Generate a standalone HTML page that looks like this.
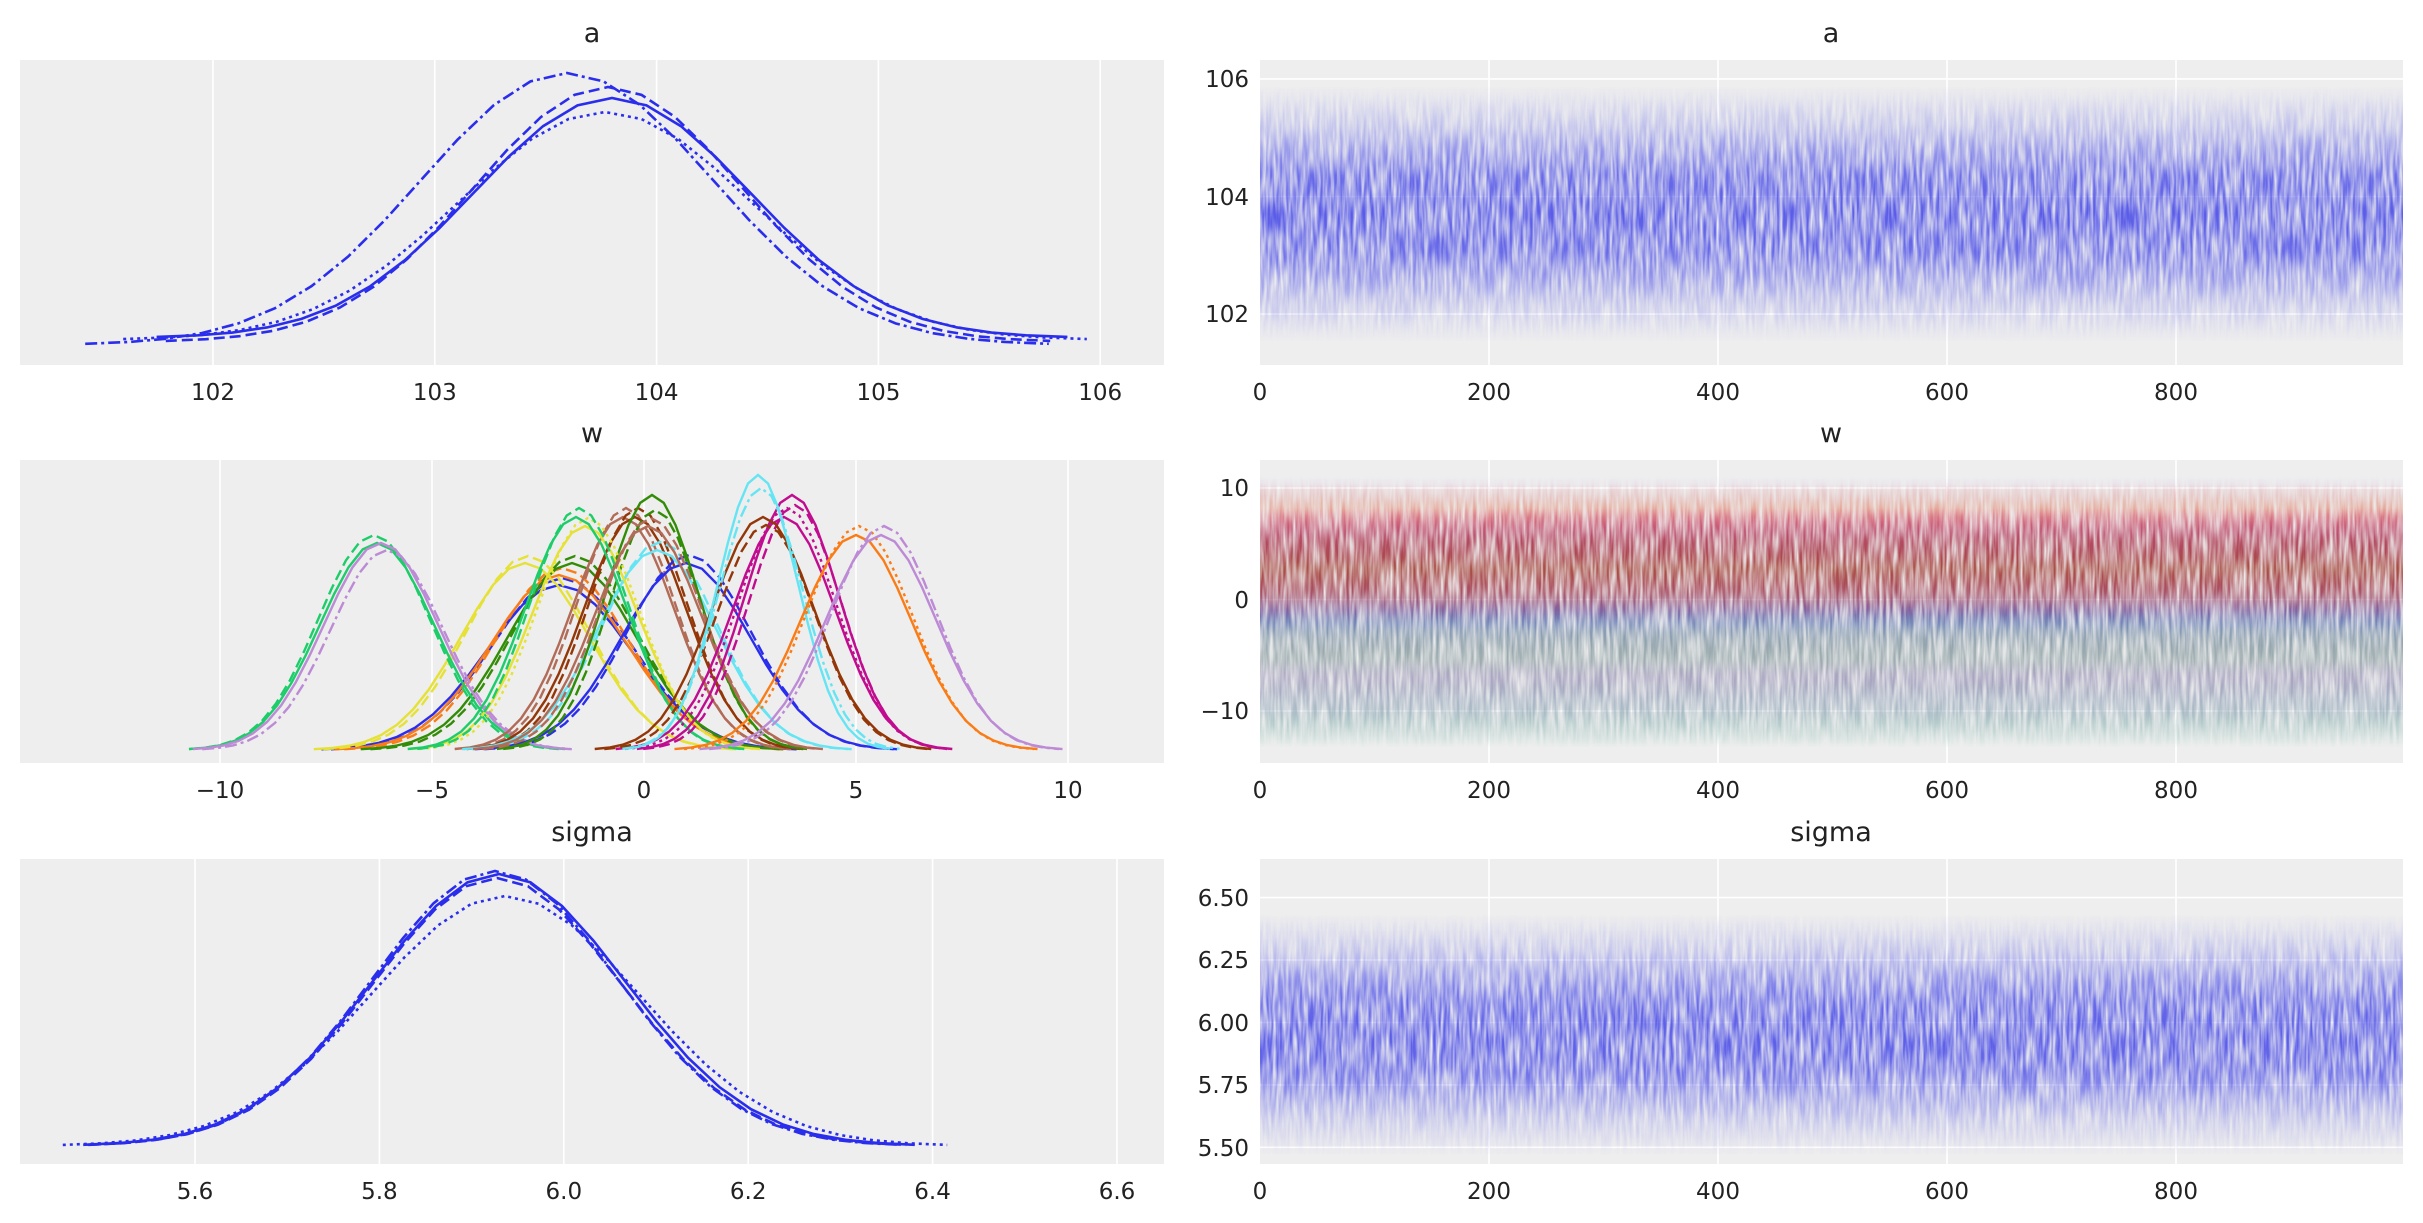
<!DOCTYPE html>
<html><head><meta charset="utf-8"><style>
html,body{margin:0;padding:0;background:#fff;}
svg{display:block;font-family:"DejaVu Sans","Liberation Sans",sans-serif;}
.t{font-size:23px;fill:#222;}
.ti{font-size:27px;fill:#222;}
.g line{stroke:#fff;stroke-width:1.6;}
</style></head><body>
<svg width="2423" height="1223" viewBox="0 0 2423 1223" xmlns="http://www.w3.org/2000/svg">
<defs>
<path id="g" vector-effect="non-scaling-stroke" fill="none" d="M-3.3 -0.0043 L-3 -0.0111 L-2.75 -0.0228 L-2.5 -0.0439 L-2.25 -0.0796 L-2 -0.1353 L-1.75 -0.2163 L-1.5 -0.3247 L-1.25 -0.4578 L-1 -0.6065 L-0.75 -0.7548 L-0.5 -0.8825 L-0.25 -0.9692 L0 -1 L0.25 -0.9692 L0.5 -0.8825 L0.75 -0.7548 L1 -0.6065 L1.25 -0.4578 L1.5 -0.3247 L1.75 -0.2163 L2 -0.1353 L2.25 -0.0796 L2.5 -0.0439 L2.75 -0.0228 L3 -0.0111 L3.3 -0.0043"/>
<clipPath id="l0"><rect x="20" y="60" width="1144" height="305"/></clipPath>
<clipPath id="l1"><rect x="20" y="460" width="1144" height="303"/></clipPath>
<clipPath id="l2"><rect x="20" y="859" width="1144" height="305"/></clipPath>
<clipPath id="r1"><rect x="1260" y="460" width="1143" height="303"/></clipPath>
<linearGradient id="gb" x1="0" y1="0" x2="0" y2="1"><stop offset="0" stop-color="#5a5ce8" stop-opacity="0"/><stop offset="0.15" stop-color="#5a5ce8" stop-opacity="0.3"/><stop offset="0.35" stop-color="#5a5ce8" stop-opacity="0.9"/><stop offset="0.5" stop-color="#5a5ce8" stop-opacity="1"/><stop offset="0.65" stop-color="#5a5ce8" stop-opacity="0.9"/><stop offset="0.85" stop-color="#5a5ce8" stop-opacity="0.3"/><stop offset="1" stop-color="#5a5ce8" stop-opacity="0"/></linearGradient>
<linearGradient id="c0" x1="0" y1="0" x2="0" y2="1"><stop offset="0" stop-color="#2a2eec" stop-opacity="0"/><stop offset="0.25" stop-color="#2a2eec" stop-opacity="0.5"/><stop offset="0.5" stop-color="#2a2eec" stop-opacity="0.8"/><stop offset="0.75" stop-color="#2a2eec" stop-opacity="0.5"/><stop offset="1" stop-color="#2a2eec" stop-opacity="0"/></linearGradient>
<linearGradient id="c1" x1="0" y1="0" x2="0" y2="1"><stop offset="0" stop-color="#fa7c17" stop-opacity="0"/><stop offset="0.25" stop-color="#fa7c17" stop-opacity="0.5"/><stop offset="0.5" stop-color="#fa7c17" stop-opacity="0.8"/><stop offset="0.75" stop-color="#fa7c17" stop-opacity="0.5"/><stop offset="1" stop-color="#fa7c17" stop-opacity="0"/></linearGradient>
<linearGradient id="c2" x1="0" y1="0" x2="0" y2="1"><stop offset="0" stop-color="#328c06" stop-opacity="0"/><stop offset="0.25" stop-color="#328c06" stop-opacity="0.5"/><stop offset="0.5" stop-color="#328c06" stop-opacity="0.8"/><stop offset="0.75" stop-color="#328c06" stop-opacity="0.5"/><stop offset="1" stop-color="#328c06" stop-opacity="0"/></linearGradient>
<linearGradient id="c3" x1="0" y1="0" x2="0" y2="1"><stop offset="0" stop-color="#c10c90" stop-opacity="0"/><stop offset="0.25" stop-color="#c10c90" stop-opacity="0.5"/><stop offset="0.5" stop-color="#c10c90" stop-opacity="0.8"/><stop offset="0.75" stop-color="#c10c90" stop-opacity="0.5"/><stop offset="1" stop-color="#c10c90" stop-opacity="0"/></linearGradient>
<linearGradient id="c4" x1="0" y1="0" x2="0" y2="1"><stop offset="0" stop-color="#933708" stop-opacity="0"/><stop offset="0.25" stop-color="#933708" stop-opacity="0.5"/><stop offset="0.5" stop-color="#933708" stop-opacity="0.8"/><stop offset="0.75" stop-color="#933708" stop-opacity="0.5"/><stop offset="1" stop-color="#933708" stop-opacity="0"/></linearGradient>
<linearGradient id="c5" x1="0" y1="0" x2="0" y2="1"><stop offset="0" stop-color="#65e5f3" stop-opacity="0"/><stop offset="0.25" stop-color="#65e5f3" stop-opacity="0.4"/><stop offset="0.5" stop-color="#65e5f3" stop-opacity="0.6"/><stop offset="0.75" stop-color="#65e5f3" stop-opacity="0.4"/><stop offset="1" stop-color="#65e5f3" stop-opacity="0"/></linearGradient>
<linearGradient id="c6" x1="0" y1="0" x2="0" y2="1"><stop offset="0" stop-color="#e6e135" stop-opacity="0"/><stop offset="0.25" stop-color="#e6e135" stop-opacity="0.5"/><stop offset="0.5" stop-color="#e6e135" stop-opacity="0.8"/><stop offset="0.75" stop-color="#e6e135" stop-opacity="0.5"/><stop offset="1" stop-color="#e6e135" stop-opacity="0"/></linearGradient>
<linearGradient id="c7" x1="0" y1="0" x2="0" y2="1"><stop offset="0" stop-color="#1ccd6a" stop-opacity="0"/><stop offset="0.25" stop-color="#1ccd6a" stop-opacity="0.5"/><stop offset="0.5" stop-color="#1ccd6a" stop-opacity="0.75"/><stop offset="0.75" stop-color="#1ccd6a" stop-opacity="0.5"/><stop offset="1" stop-color="#1ccd6a" stop-opacity="0"/></linearGradient>
<linearGradient id="c8" x1="0" y1="0" x2="0" y2="1"><stop offset="0" stop-color="#bd8ad5" stop-opacity="0"/><stop offset="0.25" stop-color="#bd8ad5" stop-opacity="0.5"/><stop offset="0.5" stop-color="#bd8ad5" stop-opacity="0.75"/><stop offset="0.75" stop-color="#bd8ad5" stop-opacity="0.5"/><stop offset="1" stop-color="#bd8ad5" stop-opacity="0"/></linearGradient>
<linearGradient id="c9" x1="0" y1="0" x2="0" y2="1"><stop offset="0" stop-color="#b16b57" stop-opacity="0"/><stop offset="0.25" stop-color="#b16b57" stop-opacity="0.5"/><stop offset="0.5" stop-color="#b16b57" stop-opacity="0.8"/><stop offset="0.75" stop-color="#b16b57" stop-opacity="0.5"/><stop offset="1" stop-color="#b16b57" stop-opacity="0"/></linearGradient>
<filter id="tn" x="0" y="0" width="1" height="1"><feTurbulence type="fractalNoise" baseFrequency="0.3 0.03" numOctaves="2" seed="5" result="t"/><feColorMatrix in="t" type="matrix" values="0 0 0 0 0  0 0 0 0 0  0 0 0 0 0  1.6 0 0 0 -0.2" result="m"/><feComposite in="SourceGraphic" in2="m" operator="in"/></filter>
</defs>

<rect x="20" y="60" width="1144" height="305" fill="#eee"/>
<rect x="1260" y="60" width="1143" height="305" fill="#eee"/>
<rect x="20" y="460" width="1144" height="303" fill="#eee"/>
<rect x="1260" y="460" width="1143" height="303" fill="#eee"/>
<rect x="20" y="859" width="1144" height="305" fill="#eee"/>
<rect x="1260" y="859" width="1143" height="305" fill="#eee"/>

<g class="ti" text-anchor="middle">
<text x="592" y="42">a</text><text x="1831" y="42">a</text>
<text x="592" y="442">w</text><text x="1831" y="442">w</text>
<text x="592" y="841">sigma</text><text x="1831" y="841">sigma</text>
</g>

<g class="g">
<line x1="213" x2="213" y1="60" y2="365"/><line x1="434.8" x2="434.8" y1="60" y2="365"/><line x1="656.6" x2="656.6" y1="60" y2="365"/><line x1="878.4" x2="878.4" y1="60" y2="365"/><line x1="1100.2" x2="1100.2" y1="60" y2="365"/>
<line x1="220" x2="220" y1="460" y2="763"/><line x1="432" x2="432" y1="460" y2="763"/><line x1="644" x2="644" y1="460" y2="763"/><line x1="856" x2="856" y1="460" y2="763"/><line x1="1068" x2="1068" y1="460" y2="763"/>
<line x1="195" x2="195" y1="859" y2="1164"/><line x1="379.4" x2="379.4" y1="859" y2="1164"/><line x1="563.8" x2="563.8" y1="859" y2="1164"/><line x1="748.2" x2="748.2" y1="859" y2="1164"/><line x1="932.6" x2="932.6" y1="859" y2="1164"/><line x1="1117" x2="1117" y1="859" y2="1164"/>
<line x1="1489" x2="1489" y1="60" y2="365"/><line x1="1718" x2="1718" y1="60" y2="365"/><line x1="1947" x2="1947" y1="60" y2="365"/><line x1="2176" x2="2176" y1="60" y2="365"/>
<line x1="1489" x2="1489" y1="460" y2="763"/><line x1="1718" x2="1718" y1="460" y2="763"/><line x1="1947" x2="1947" y1="460" y2="763"/><line x1="2176" x2="2176" y1="460" y2="763"/>
<line x1="1489" x2="1489" y1="859" y2="1164"/><line x1="1718" x2="1718" y1="859" y2="1164"/><line x1="1947" x2="1947" y1="859" y2="1164"/><line x1="2176" x2="2176" y1="859" y2="1164"/>
<line x1="1260" x2="2403" y1="314.1" y2="314.1"/><line x1="1260" x2="2403" y1="196.5" y2="196.5"/><line x1="1260" x2="2403" y1="78.9" y2="78.9"/>
<line x1="1260" x2="2403" y1="711" y2="711"/><line x1="1260" x2="2403" y1="599.5" y2="599.5"/><line x1="1260" x2="2403" y1="488" y2="488"/>
<line x1="1260" x2="2403" y1="1147.3" y2="1147.3"/><line x1="1260" x2="2403" y1="1084.9" y2="1084.9"/><line x1="1260" x2="2403" y1="1022.5" y2="1022.5"/><line x1="1260" x2="2403" y1="960" y2="960"/><line x1="1260" x2="2403" y1="897.6" y2="897.6"/>
</g>

<g class="t" text-anchor="middle">
<text x="213" y="400">102</text><text x="434.8" y="400">103</text><text x="656.6" y="400">104</text><text x="878.4" y="400">105</text><text x="1100.2" y="400">106</text>
<text x="220" y="798">−10</text><text x="432" y="798">−5</text><text x="644" y="798">0</text><text x="856" y="798">5</text><text x="1068" y="798">10</text>
<text x="195" y="1199">5.6</text><text x="379.4" y="1199">5.8</text><text x="563.8" y="1199">6.0</text><text x="748.2" y="1199">6.2</text><text x="932.6" y="1199">6.4</text><text x="1117" y="1199">6.6</text>
<text x="1260" y="400">0</text><text x="1489" y="400">200</text><text x="1718" y="400">400</text><text x="1947" y="400">600</text><text x="2176" y="400">800</text>
<text x="1260" y="798">0</text><text x="1489" y="798">200</text><text x="1718" y="798">400</text><text x="1947" y="798">600</text><text x="2176" y="798">800</text>
<text x="1260" y="1199">0</text><text x="1489" y="1199">200</text><text x="1718" y="1199">400</text><text x="1947" y="1199">600</text><text x="2176" y="1199">800</text>
</g>
<g class="t" text-anchor="end">
<text x="1249" y="322">102</text><text x="1249" y="205">104</text><text x="1249" y="87">106</text>
<text x="1249" y="719">−10</text><text x="1249" y="608">0</text><text x="1249" y="496">10</text>
<text x="1249" y="1156">5.50</text><text x="1249" y="1093">5.75</text><text x="1249" y="1031">6.00</text><text x="1249" y="968">6.25</text><text x="1249" y="906">6.50</text>
</g>

<g filter="url(#tn)">
<rect x="1260" y="86" width="1143" height="256" fill="url(#gb)"/>
<rect x="1260" y="915" width="1143" height="240" fill="url(#gb)"/>
</g>
<g clip-path="url(#r1)" opacity="0.85">
<g filter="url(#tn)">
<rect x="1260" y="542" width="1143" height="160" fill="url(#c0)"/>
<rect x="1260" y="547" width="1143" height="150" fill="url(#c1)"/>
<rect x="1260" y="560.7" width="1143" height="140" fill="url(#c6)"/>
<rect x="1260" y="548.5" width="1143" height="140" fill="url(#c2)"/>
<rect x="1260" y="561.3" width="1143" height="112" fill="url(#c7)"/>
<rect x="1260" y="556" width="1143" height="118" fill="url(#c6)"/>
<rect x="1260" y="549" width="1143" height="112" fill="url(#c9)"/>
<rect x="1260" y="545.3" width="1143" height="104" fill="url(#c2)"/>
<rect x="1260" y="539.4" width="1143" height="118" fill="url(#c9)"/>
<rect x="1260" y="545.7" width="1143" height="112" fill="url(#c4)"/>
<rect x="1260" y="530" width="1143" height="132" fill="url(#c5)"/>
<rect x="1260" y="518.4" width="1143" height="140" fill="url(#c0)"/>
<rect x="1260" y="476" width="1143" height="122" fill="url(#c8)"/>
<rect x="1260" y="482.8" width="1143" height="122" fill="url(#c1)"/>
<rect x="1260" y="524.4" width="1143" height="90" fill="url(#c5)"/>
<rect x="1260" y="506.7" width="1143" height="112" fill="url(#c3)"/>
<rect x="1260" y="508.5" width="1143" height="104" fill="url(#c3)"/>
<rect x="1260" y="512.3" width="1143" height="112" fill="url(#c4)"/>
<rect x="1260" y="612" width="1143" height="136" fill="url(#c7)"/>
<rect x="1260" y="610" width="1143" height="136" fill="url(#c8)"/>
</g>
</g>

<g clip-path="url(#l0)" stroke="#2a2eec" stroke-width="2.6" fill="none">
<use href="#g" transform="translate(612,338) scale(138,240)"/>
<use href="#g" transform="translate(608,342) scale(134,255)" stroke-dasharray="11,5"/>
<use href="#g" transform="translate(605,340) scale(146,228)" stroke-dasharray="3,4"/>
<use href="#g" transform="translate(567,345) scale(146,272)" stroke-dasharray="12,4,3,4"/>
</g>
<g clip-path="url(#l2)" stroke="#2a2eec" stroke-width="2.6" fill="none">
<use href="#g" transform="translate(499,1146) scale(126,272)"/>
<use href="#g" transform="translate(497,1146) scale(124,268)" stroke-dasharray="11,5"/>
<use href="#g" transform="translate(505,1146) scale(134,250)" stroke-dasharray="3,4"/>
<use href="#g" transform="translate(495,1146) scale(123,275)" stroke-dasharray="12,4,3,4"/>
</g>
<g clip-path="url(#l1)" stroke-width="2.4" fill="none">
<g stroke="#2a2eec"><use href="#g" transform="translate(559,750) scale(72,165)"/><use href="#g" transform="translate(562,750) scale(70,172)" stroke-dasharray="11,5"/></g>
<g stroke="#fa7c17"><use href="#g" transform="translate(559,750) scale(68,175)"/><use href="#g" transform="translate(562,750) scale(66,182)" stroke-dasharray="11,5"/></g>
<g stroke="#328c06"><use href="#g" transform="translate(572,750) scale(64,187)"/><use href="#g" transform="translate(575,750) scale(62,194)" stroke-dasharray="11,5"/></g>
<g stroke="#e6e135"><use href="#g" transform="translate(525,750) scale(64,187)"/><use href="#g" transform="translate(528,750) scale(62,194)" stroke-dasharray="11,5"/></g>
<g stroke="#1ccd6a"><use href="#g" transform="translate(377,750) scale(57,207)"/><use href="#g" transform="translate(374,750) scale(56,215)" stroke-dasharray="11,5"/></g>
<g stroke="#bd8ad5"><use href="#g" transform="translate(381,750) scale(57,207)"/><use href="#g" transform="translate(387,750) scale(56,200)" stroke-dasharray="12,4,3,4"/></g>
<g stroke="#b16b57"><use href="#g" transform="translate(623,750) scale(51,233)"/><use href="#g" transform="translate(626,750) scale(49,242)" stroke-dasharray="11,5"/></g>
<g stroke="#933708"><use href="#g" transform="translate(635,750) scale(51,233)"/><use href="#g" transform="translate(638,750) scale(49,242)" stroke-dasharray="11,5"/></g>
<g stroke="#65e5f3"><use href="#g" transform="translate(657,750) scale(59,200)"/><use href="#g" transform="translate(660,750) scale(57,208)" stroke-dasharray="11,5"/></g>
<g stroke="#2a2eec"><use href="#g" transform="translate(686,750) scale(64,187)"/><use href="#g" transform="translate(689,750) scale(62,195)" stroke-dasharray="11,5"/></g>
<g stroke="#328c06"><use href="#g" transform="translate(652,750) scale(47,255)"/><use href="#g" transform="translate(655,750) scale(46,240)" stroke-dasharray="11,5"/></g>
<g stroke="#e6e135"><use href="#g" transform="translate(585,750) scale(53,224)"/><use href="#g" transform="translate(588,750) scale(51,232)" stroke-dasharray="3,4"/></g>
<g stroke="#1ccd6a"><use href="#g" transform="translate(576,750) scale(51,233)"/><use href="#g" transform="translate(579,750) scale(49,242)" stroke-dasharray="11,5"/></g>
<g stroke="#b16b57"><use href="#g" transform="translate(648,750) scale(53,224)"/><use href="#g" transform="translate(651,750) scale(51,232)" stroke-dasharray="11,5"/></g>
<g stroke="#c10c90"><use href="#g" transform="translate(784,750) scale(51,233)"/><use href="#g" transform="translate(787,750) scale(49,242)" stroke-dasharray="3,4"/></g>
<g stroke="#c10c90"><use href="#g" transform="translate(792,750) scale(47,255)"/><use href="#g" transform="translate(795,750) scale(46,245)" stroke-dasharray="11,5"/></g>
<g stroke="#933708"><use href="#g" transform="translate(763,750) scale(51,233)"/><use href="#g" transform="translate(766,750) scale(49,225)" stroke-dasharray="11,5"/></g>
<g stroke="#65e5f3"><use href="#g" transform="translate(758,750) scale(40,275)"/><use href="#g" transform="translate(761,750) scale(42,262)" stroke-dasharray="12,4,3,4"/></g>
<g stroke="#fa7c17"><use href="#g" transform="translate(856,750) scale(55,215)"/><use href="#g" transform="translate(859,750) scale(53,224)" stroke-dasharray="3,4"/></g>
<g stroke="#bd8ad5"><use href="#g" transform="translate(881,750) scale(55,215)"/><use href="#g" transform="translate(884,750) scale(53,224)" stroke-dasharray="12,4,3,4"/></g>
</g>
</svg>
</body></html>
